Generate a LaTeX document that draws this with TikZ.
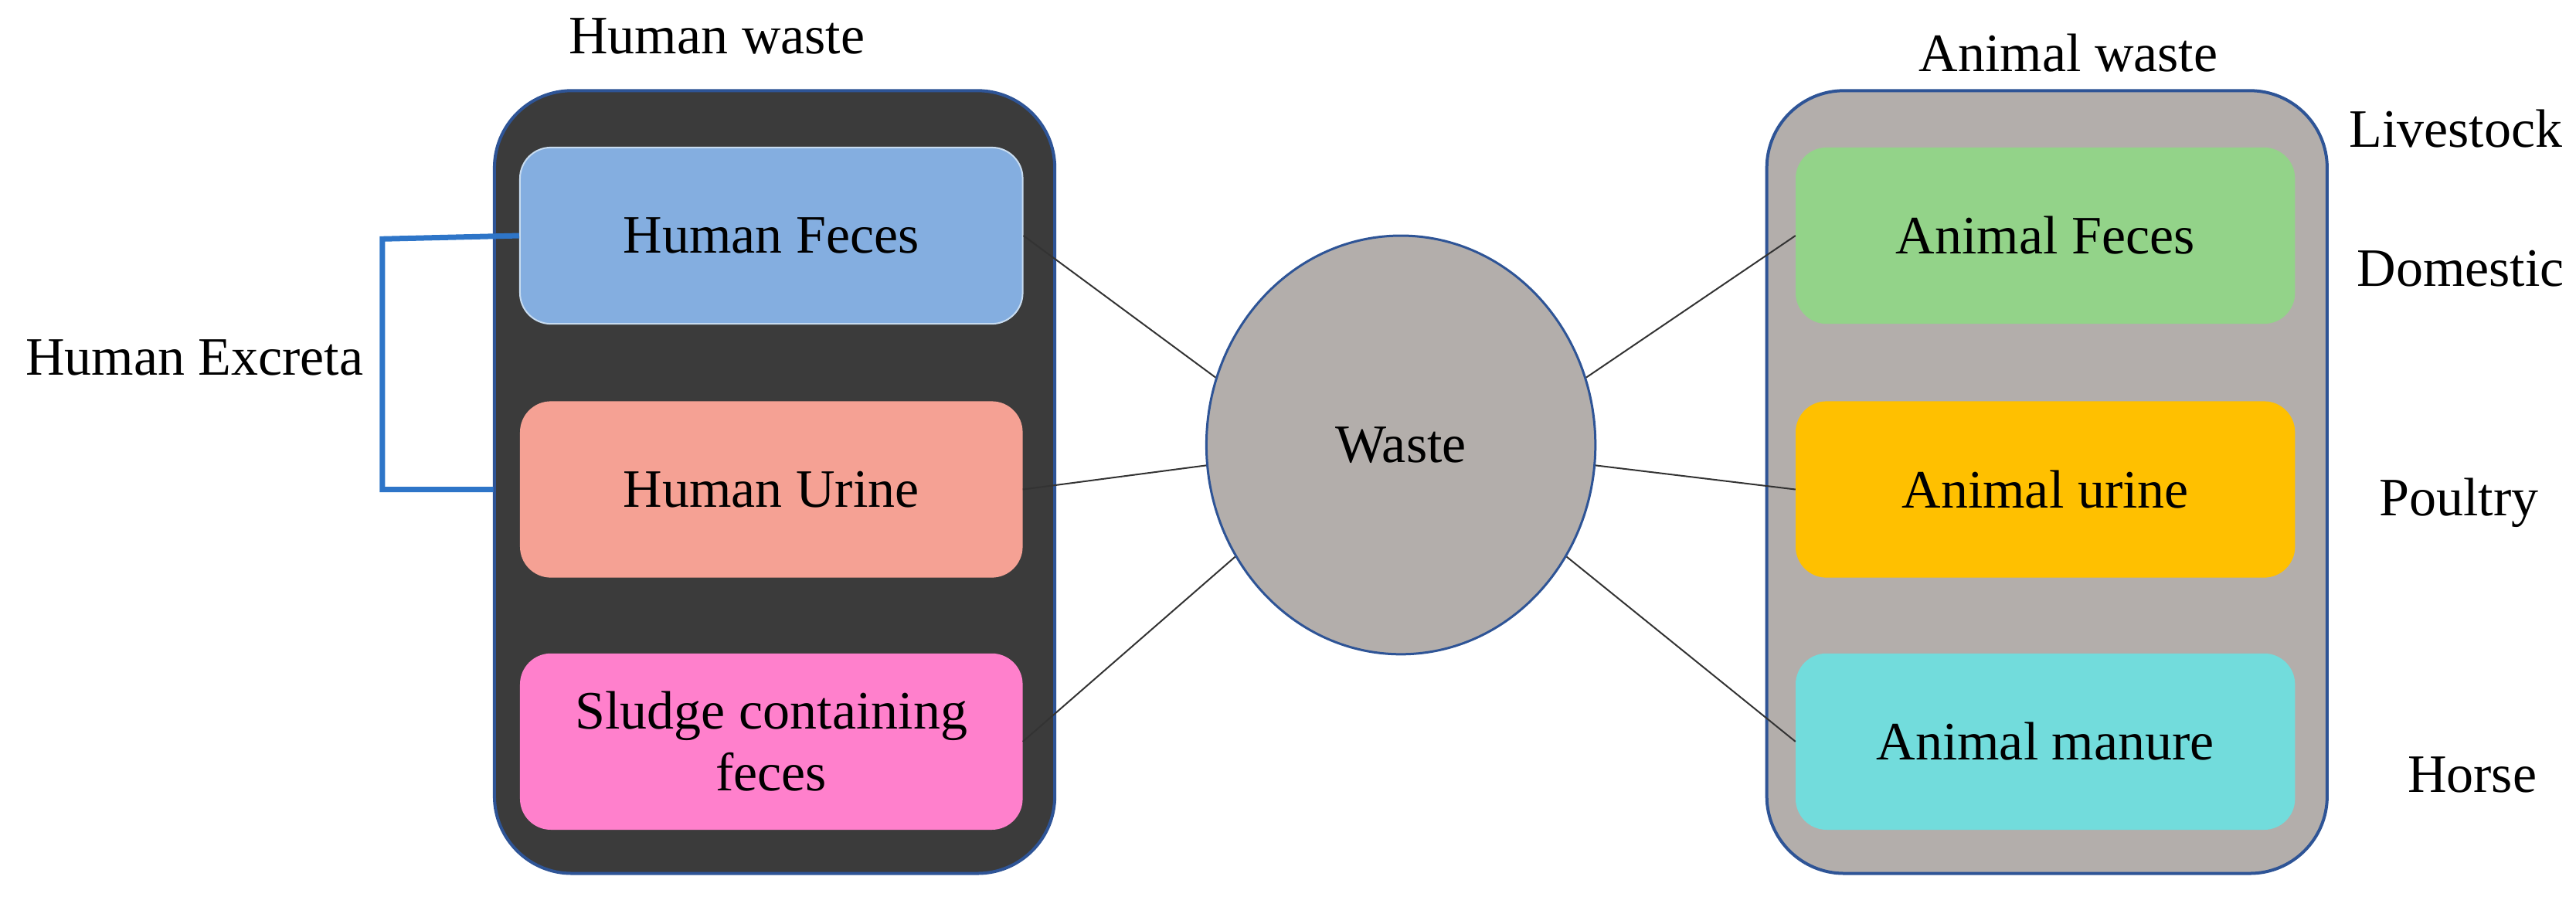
\documentclass[tikz,border=0pt]{standalone}
\usepackage{fontspec}
\setmainfont{Liberation Serif}
\usetikzlibrary{shapes.geometric}
\begin{document}
\begin{tikzpicture}[x=2.133pt,y=-2.133pt,
  every node/.style={font=\fontsize{70}{80}\selectfont},
  big/.style={draw={rgb,255:red,46;green,84;blue,150},line width=4pt,rounded corners=100pt},
  item/.style={rounded corners=40pt,minimum width=305*2.133pt,minimum height=107*2.133pt,align=center,inner sep=0pt},
  link/.style={draw=black!80,line width=2pt}]
\useasboundingbox (0,0) rectangle (1563,550);
\fill[white] (0,0) rectangle (1563,550);
\draw[big,fill=black!77] (300,55) rectangle (640,530);
\draw[big,fill={rgb,255:red,179;green,174;blue,171}] (1072,55) rectangle (1412,530);
\node (hf) [item,fill={rgb,255:red,132;green,174;blue,224},draw={rgb,255:red,200;green,220;blue,240},line width=2pt] at (468,143) {Human Feces};
\node (hu) [item,fill={rgb,255:red,245;green,161;blue,148}] at (468,297) {Human Urine};
\node (sl) [item,fill={rgb,255:red,255;green,128;blue,204}] at (468,450) {Sludge containing\\feces};
\node (af) [item,fill={rgb,255:red,147;green,211;blue,137},minimum width=303*2.133pt] at (1241,143) {Animal Feces};
\node (au) [item,fill={rgb,255:red,255;green,192;blue,0},minimum width=303*2.133pt] at (1241,297) {Animal urine};
\node (am) [item,fill={rgb,255:red,114;green,220;blue,220},minimum width=303*2.133pt] at (1241,450) {Animal manure};
\node (w) [ellipse,draw={rgb,255:red,46;green,84;blue,150},line width=3pt,fill={rgb,255:red,179;green,174;blue,171},minimum width=236*2.133pt,minimum height=254*2.133pt] at (850,270) {Waste};
\node (t1) at (435,22) {Human waste};
\node (t2) at (1255,32) {Animal waste};
\node (l1) at (1490,78) {Livestock};
\node (l2) at (1493,163) {Domestic};
\node (l3) at (1492,305) {Poultry};
\node (l4) at (1500,470) {Horse};
\node (he) at (118,217) {Human Excreta};
\coordinate (b1) at (232,145);
\coordinate (b2) at (232,297);
\draw[line width=7pt,draw={rgb,255:red,46;green,117;blue,200}] (hf.west) -- (b1) -- (b2) -- ([xshift=-16*2.133pt]hu.west);
\draw[link] (hf.east) -- (w.160);
\draw[link] (hu.east) -- (w.186);
\draw[link] (sl.east) -- (w.214);
\draw[link] (w.20) -- (af.west);
\draw[link] (w.-6) -- (au.west);
\draw[link] (w.-34) -- (am.west);
\end{tikzpicture}
\end{document}
